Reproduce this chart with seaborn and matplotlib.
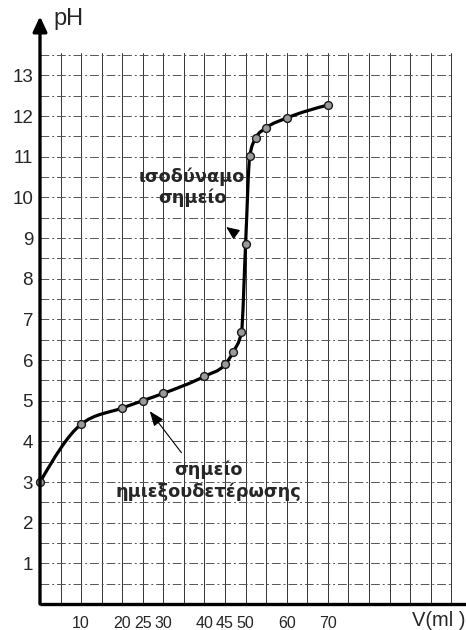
import numpy as np
import pandas as pd
import matplotlib
matplotlib.use("Agg")
import matplotlib.pyplot as plt
from matplotlib.path import Path
from matplotlib.patches import PathPatch
import seaborn as sns

# Titration measurements: added volume (ml) and measured pH
volume_ml = [0, 10, 20, 25, 30, 40, 45, 47, 49, 50, 51, 52.5, 55, 60, 70]
ph_values = [3.0, 4.42, 4.82, 5.0, 5.18, 5.6, 5.89, 6.2, 6.69, 8.86, 11.01, 11.47, 11.71, 11.95, 12.27]

x_tick_values = [10, 20, 25, 30, 40, 45, 50, 60, 70]
y_tick_values = list(range(1, 14))

equivalence_label = ["ισοδύναμο", "σημείο"]
half_neutral_label = ["σημείο", "ημιεξουδετέρωσης"]

sns.set_style("white")
plt.rcParams["font.family"] = ["Liberation Sans", "DejaVu Sans"]

df = pd.DataFrame({"V": volume_ml, "pH": ph_values})


def monotone_path(x, y):
    """Smooth monotone cubic curve through the points, as a Bezier path."""
    x = np.asarray(x, float)
    y = np.asarray(y, float)
    h = np.diff(x)
    s = np.diff(y) / h
    n = len(x)
    m = np.zeros(n)
    for i in range(1, n - 1):
        p = (s[i - 1] * h[i] + s[i] * h[i - 1]) / (h[i - 1] + h[i])
        m[i] = (np.sign(s[i - 1]) + np.sign(s[i])) * min(abs(s[i - 1]), abs(s[i]), 0.5 * abs(p))
    m[0] = (3 * s[0] - m[1]) / 2
    m[-1] = (3 * s[-1] - m[-2]) / 2
    verts = [(x[0], y[0])]
    codes = [Path.MOVETO]
    for i in range(n - 1):
        d = h[i] / 3
        verts += [(x[i] + d, y[i] + m[i] * d), (x[i + 1] - d, y[i + 1] - m[i + 1] * d), (x[i + 1], y[i + 1])]
        codes += [Path.CURVE4] * 3
    return Path(verts, codes)


W, H = 466, 630
fig = plt.figure(figsize=(W / 100, H / 100), dpi=100)
ax = fig.add_axes([40 / W, 26 / H, (W - 40) / W, (604 - 53) / H])

x_max = 103.6
y_max = 13.55
ax.set_xlim(0, x_max)
ax.set_ylim(0, y_max)
for side in ax.spines.values():
    side.set_visible(False)

# graph-paper grid
for v in np.arange(5, 101, 5):
    ax.plot([v, v], [0, y_max], color="#333333", lw=0.7, zorder=1)
for p in np.arange(0.5, 13.51, 0.5):
    ax.plot([0, 100], [p, p], color="#555555", lw=0.7,
            linestyle=(0, (9, 3, 2, 3)), zorder=1)

# titration curve and measured points
ax.add_patch(PathPatch(monotone_path(df["V"], df["pH"]), facecolor="none",
                       edgecolor="black", lw=2.3, zorder=3, capstyle="round"))
sns.scatterplot(data=df, x="V", y="pH", ax=ax, s=32, color="#9a9a9a",
                edgecolor="#1a1a1a", linewidth=1.0, zorder=4, clip_on=False)

# axes drawn as thick lines, pH axis with an arrow head
ax.plot([0, x_max], [0, 0], color="black", lw=2.4, clip_on=False, zorder=5,
        solid_capstyle="butt")
ax.annotate("", xy=(0, 14.45), xytext=(0, 0), annotation_clip=False,
            arrowprops=dict(arrowstyle="-|>,head_length=0.9,head_width=0.42",
                            lw=2.4, color="black", shrinkA=0, shrinkB=0), zorder=5)

ax.set_xticks(x_tick_values)
ax.set_yticks(y_tick_values)
ax.set_xticklabels([str(v) for v in x_tick_values], fontsize=11.5)
ax.set_yticklabels([str(v) for v in y_tick_values], fontsize=13.5)
ax.tick_params(axis="both", length=0)
ax.tick_params(axis="x", pad=9)
ax.tick_params(axis="y", pad=5)
ax.set_xlabel("")
ax.set_ylabel("")

fig.text(53 / W, 1 - 19 / H, "pH", fontsize=17, ha="left", va="center")
fig.text(466 / W, 1 - 620 / H, "V(ml )", fontsize=14.5, ha="right", va="center")

# annotations
bold = dict(fontsize=12.8, fontweight="bold", family=["DejaVu Sans"], ha="center",
            va="baseline", zorder=6)
ax.text(36.9, 10.37, equivalence_label[0], **bold)
ax.text(37.0, 9.85, equivalence_label[1], **bold)
ax.annotate("", xy=(45.3, 9.27), xytext=(46.8, 9.16),
            arrowprops=dict(arrowstyle="-|>,head_length=0.8,head_width=0.35",
                            lw=0.8, color="black", shrinkA=0, shrinkB=0))

ax.text(40.9, 3.17, half_neutral_label[0], **bold)
ax.text(40.9, 2.63, half_neutral_label[1], **bold)
ax.annotate("", xy=(26.7, 4.74), xytext=(34.4, 3.72),
            arrowprops=dict(arrowstyle="-|>,head_length=0.9,head_width=0.35",
                            lw=0.8, color="black", shrinkA=0, shrinkB=0))

fig.savefig("out.png", dpi=100)
